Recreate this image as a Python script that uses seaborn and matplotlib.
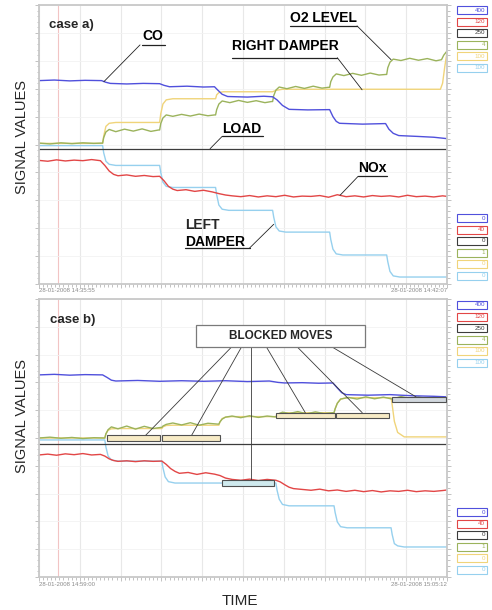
import matplotlib
matplotlib.use("Agg")
import pandas as pd
import matplotlib.pyplot as plt
import seaborn as sns
from matplotlib.patches import Rectangle
from matplotlib.ticker import MultipleLocator

# ---- data: time in s from start of record, signals in % of span ----
T_END = 372

# case a)
CO_A_T = [0, 14, 28, 42, 57, 61, 65, 80, 95, 110, 114, 119, 135, 150, 160, 163, 167, 172, 190, 205, 213, 217,
          222, 228, 245, 265, 268, 271, 274, 295, 316, 319, 323, 328, 345, 360, 372]
CO_A_V = [72.9, 73.1, 72.8, 73.0, 72.9, 72.3, 71.9, 71.7, 71.9, 71.8, 71.2, 70.7, 70.9, 70.6, 70.7, 69.5, 68.0,
          67.2, 67.0, 67.3, 67.1, 66.0, 64.0, 62.6, 62.4, 62.5, 60.0, 58.3, 57.6, 57.3, 57.5, 55.5, 54.0, 53.2,
          52.9, 52.6, 52.1]

NOX_A_T = [0, 8, 16, 24, 32, 40, 48, 56, 60, 64, 68, 72, 80, 88, 96, 104, 110, 114, 118, 122, 126, 134, 142,
           150, 158, 164, 170, 176, 184, 192, 200, 208, 216, 224, 232, 240, 248, 256, 264, 272, 280, 288, 296,
           304, 312, 320, 328, 336, 344, 352, 360, 368, 372]
NOX_A_V = [44.3, 44.0, 44.5, 44.1, 44.4, 44.2, 44.6, 44.2, 42.5, 40.5, 39.3, 38.8, 39.1, 38.6, 38.9, 38.5, 38.6,
           37.0, 35.0, 34.0, 33.5, 33.8, 33.2, 33.6, 33.0, 32.4, 31.9, 31.6, 31.3, 31.7, 31.2, 31.6, 31.3, 31.8,
           31.2, 31.5, 31.4, 31.7, 31.1, 32.0, 31.3, 31.6, 31.2, 31.7, 31.4, 31.6, 31.2, 31.8, 31.3, 31.5, 31.2,
           31.6, 31.4]

O2_A_T = [0, 10, 20, 30, 40, 50, 57, 58, 59, 61, 64, 70, 78, 86, 94, 102, 109, 110, 111, 113, 116, 122, 130,
          138, 146, 154, 160, 161, 162, 164, 167, 174, 182, 190, 198, 206, 212, 213, 214, 216, 219, 226, 234,
          242, 250, 258, 264, 265, 266, 268, 271, 278, 286, 294, 302, 310, 316, 317, 318, 320, 323, 330, 338,
          346, 354, 362, 367, 369, 372]
O2_A_V = [50.5, 50.2, 50.6, 50.3, 50.6, 50.4, 50.5, 50.5, 52.5, 54.5, 55.4, 54.6, 55.5, 54.8, 55.6, 54.7, 55.2,
          55.2, 57.5, 59.5, 60.6, 60.1, 60.8, 60.2, 60.9, 60.3, 60.6, 60.6, 62.5, 64.5, 65.6, 65.0, 65.8, 65.1,
          65.7, 65.0, 65.4, 65.4, 67.5, 69.5, 70.6, 70.0, 70.8, 70.1, 70.9, 70.2, 70.5, 70.5, 72.5, 74.2, 75.3,
          74.7, 75.5, 74.8, 75.6, 74.9, 75.1, 75.1, 77.5, 79.5, 80.6, 80.1, 80.9, 80.2, 80.8, 80.0, 80.4, 82.0,
          83.5]

RD_A_T = [0, 58, 59, 61, 64, 70, 110, 111, 113, 116, 122, 161, 162, 164, 168, 213, 216, 222, 366, 368, 370, 372]
RD_A_V = [50.4, 50.4, 53.0, 56.5, 57.6, 57.9, 57.9, 61.0, 64.5, 66.0, 66.4, 66.4, 67.8, 68.6, 68.9, 68.9, 69.4,
          69.8, 69.8, 72.0, 78.0, 83.0]

LD_A_T = [0, 58, 59, 61, 64, 70, 110, 111, 113, 116, 122, 161, 162, 164, 167, 173, 213, 214, 216, 219, 225,
          265, 266, 268, 271, 277, 317, 318, 320, 323, 329, 372]
LD_A_V = [49.6, 49.6, 47.0, 44.0, 42.9, 42.5, 42.5, 40.0, 36.5, 35.0, 34.6, 34.6, 32.0, 28.3, 26.8, 26.4, 26.4,
          24.0, 20.5, 19.0, 18.6, 18.6, 16.0, 12.5, 10.8, 10.4, 10.4, 8.0, 4.5, 2.9, 2.5, 2.5]

LOAD_A = 48.5

# case b)
CO_B_T = [0, 14, 28, 42, 58, 62, 66, 70, 90, 110, 130, 150, 170, 190, 210, 218, 224, 240, 255, 268, 272, 276,
          280, 300, 320, 340, 360, 372]
CO_B_V = [72.7, 72.9, 72.6, 72.8, 72.7, 71.8, 70.8, 70.5, 70.7, 70.4, 70.6, 70.4, 70.6, 70.3, 70.5, 70.0, 69.8,
          69.9, 69.7, 69.8, 68.0, 66.3, 65.6, 65.4, 65.6, 65.2, 65.0, 64.8]

NOX_B_T = [0, 8, 16, 24, 32, 40, 48, 56, 60, 64, 68, 72, 80, 88, 96, 104, 112, 116, 120, 124, 128, 136, 144,
           152, 160, 165, 170, 176, 184, 192, 200, 208, 216, 220, 224, 228, 232, 240, 248, 256, 264, 272, 280,
           288, 296, 304, 312, 320, 328, 336, 344, 352, 360, 368, 372]
NOX_B_V = [43.9, 44.2, 43.8, 44.3, 44.0, 44.4, 43.9, 44.1, 43.5, 42.5, 41.9, 41.6, 41.8, 41.5, 41.8, 41.6, 41.7,
           40.5, 39.0, 38.0, 37.3, 37.6, 36.9, 37.5, 37.0, 36.5, 35.6, 35.1, 34.8, 35.2, 34.7, 35.1, 34.8, 34.2,
           33.2, 32.3, 31.8, 31.5, 31.2, 31.6, 31.0, 31.3, 30.8, 31.2, 30.7, 31.1, 30.6, 31.0, 30.8, 31.2, 30.7,
           31.0, 30.8, 31.1, 31.3]

O2_B_T = [0, 10, 20, 30, 40, 50, 59, 60, 61, 63, 66, 72, 80, 88, 96, 104, 111, 112, 113, 116, 122, 130, 138,
          146, 154, 163, 164, 165, 167, 170, 176, 184, 192, 200, 208, 215, 216, 217, 219, 222, 228, 236, 244,
          252, 260, 268, 269, 270, 272, 275, 282, 290, 298, 306, 314, 322, 330, 338, 346, 354, 362, 372]
O2_B_V = [50.0, 50.3, 49.9, 50.2, 49.8, 50.1, 50.0, 50.0, 51.5, 53.0, 54.0, 53.3, 54.3, 53.2, 54.2, 53.4, 53.8,
          53.8, 54.3, 54.9, 55.4, 54.7, 55.5, 54.6, 55.3, 55.0, 55.0, 55.8, 56.8, 57.5, 57.9, 57.3, 58.0, 57.4,
          57.9, 57.6, 57.6, 58.2, 58.8, 59.3, 58.8, 59.5, 58.7, 59.4, 58.8, 59.1, 59.1, 60.5, 62.5, 64.0, 64.6,
          64.0, 64.8, 64.1, 64.7, 64.0, 64.9, 64.3, 64.8, 64.2, 64.6, 64.5]

RD_B_T = [0, 60, 61, 63, 66, 72, 112, 113, 116, 122, 164, 165, 167, 170, 176, 216, 217, 219, 224, 269, 270, 272,
          275, 281, 321, 322, 324, 327, 333, 372]
RD_B_V = [50.0, 50.0, 51.5, 52.8, 53.3, 53.4, 53.4, 54.0, 54.5, 54.6, 54.6, 55.8, 57.0, 57.5, 57.7, 57.7, 58.2,
          58.8, 59.1, 59.1, 60.5, 62.5, 64.0, 64.5, 64.5, 62.0, 56.0, 52.0, 50.4, 50.4]

LD_B_T = [0, 60, 61, 63, 66, 72, 112, 113, 115, 118, 124, 216, 217, 219, 222, 228, 269, 270, 272, 275, 281, 321,
          322, 324, 327, 333, 372]
LD_B_V = [49.3, 49.3, 46.8, 43.5, 42.1, 41.7, 41.7, 39.3, 36.0, 34.3, 33.8, 33.8, 31.3, 28.0, 26.1, 25.6, 25.6,
          23.2, 19.8, 18.1, 17.7, 17.7, 15.3, 12.0, 11.2, 10.8, 10.8]

LOAD_B = 47.8

# blocked moves in case b): start, end, level, anchor of leader
BLK_T0 = [61.8, 111.9, 216.5, 271.0, 322.0, 166.4]
BLK_T1 = [110.0, 164.6, 270.1, 319.2, 371.1, 214.6]
BLK_V = [50.0, 50.0, 58.1, 58.1, 63.8, 33.8]
BLK_FROM = [175.5, 184.6, 207.4, 235.6, 267.4, 193.7]
BLK_TO = [97.3, 139.2, 242.8, 294.7, 343.8, 193.7]

# range boxes at the right (top = max, bottom = min of each trace)
RANGE_MAX = ["400", "120", "250", "4", "100", "100"]
RANGE_MIN = ["0", "40", "0", "1", "0", "0"]

C_CO, C_NOX, C_LOAD, C_O2, C_RD, C_LD = "#5050dc", "#e24646", "#3c3c3c", "#9bb35c", "#f0d47a", "#96d0ee"
RANGE_COLORS = [C_CO, C_NOX, C_LOAD, C_O2, C_RD, C_LD]

W, H = 492, 610

sns.set_theme(style="white")
plt.rcParams['font.family'] = ['Liberation Sans', 'DejaVu Sans']

fig = plt.figure(figsize=(W / 100, H / 100), dpi=100)
ax_a = fig.add_axes([39 / W, 1 - 284 / H, 408 / W, 279 / H])
ax_b = fig.add_axes([39 / W, 1 - 577 / H, 408 / W, 278 / H])


def draw_series(ax, t, v, color, lw=1.0):
    d = pd.DataFrame({"t": t, "v": v})
    sns.lineplot(data=d, x="t", y="v", ax=ax, color=color, lw=lw, estimator=None, sort=False)


def style_axis(ax):
    ax.set_xlim(0, T_END)
    ax.set_ylim(0, 100)
    ax.set_xlabel("")
    ax.set_ylabel("")
    ax.xaxis.set_major_locator(MultipleLocator(T_END / 10))
    ax.xaxis.set_minor_locator(MultipleLocator(T_END / 100))
    ax.yaxis.set_major_locator(MultipleLocator(10))
    ax.yaxis.set_minor_locator(MultipleLocator(2))
    ax.tick_params(which="both", labelbottom=False, labelleft=False, bottom=True, left=True, right=True,
                   direction="out", color="#b8b8b8", width=0.6)
    ax.tick_params(which="major", length=3)
    ax.tick_params(which="minor", length=1.8)
    ax.grid(True, which="major", axis="x", color="#e8e8e8", lw=0.8)
    ax.grid(True, which="major", axis="y", color="#f2f2f2", lw=0.6)
    ax.axvline(17.3, color="#f2c4c4", lw=0.8, zorder=0.5)
    for s in ax.spines.values():
        s.set_color("#c8c8c8")
        s.set_linewidth(1.3)


def callout(ax, text, x0, x1, uy, base, lead_from, lead_to):
    ax.text(x0, base, text, fontsize=10, fontweight="bold", ha="left", va="baseline", color="black", zorder=6)
    ax.plot([x0, x1], [uy, uy], color="#222222", lw=0.9, zorder=6)
    ax.plot([lead_from[0], lead_to[0]], [lead_from[1], lead_to[1]], color="#222222", lw=0.6, zorder=6)


def range_boxes(labels, top_px):
    for i, (lab, col) in enumerate(zip(labels, RANGE_COLORS)):
        y = top_px + i * 11.5
        fig.add_artist(Rectangle((457 / W, 1 - (y + 8) / H), 30 / W, 8 / H, transform=fig.transFigure,
                                 facecolor="white", edgecolor=col, lw=0.8))
        fig.text(485 / W, 1 - (y + 4) / H, lab, fontsize=4.5, color=col, ha="right", va="center")


# case a)
for t, v, c in [(LD_A_T, LD_A_V, C_LD), (RD_A_T, RD_A_V, C_RD), (O2_A_T, O2_A_V, C_O2),
                (NOX_A_T, NOX_A_V, C_NOX), (CO_A_T, CO_A_V, C_CO)]:
    draw_series(ax_a, t, v, c)
ax_a.axhline(LOAD_A, color=C_LOAD, lw=0.9)
style_axis(ax_a)

ax_a.text(9.1, 91.8, "case a)", fontsize=9.5, fontweight="bold", ha="left", va="baseline")
callout(ax_a, "CO", 94.0, 114.9, 85.7, 87.6, (92.1, 85.7), (59.1, 72.5))
callout(ax_a, "RIGHT DAMPER", 176.0, 272.0, 81.1, 83.9, (272.0, 81.1), (294.6, 69.6))
callout(ax_a, "O2 LEVEL", 229.0, 290.0, 92.5, 93.9, (290.0, 92.5), (321.0, 80.4))
callout(ax_a, "LOAD", 167.0, 204.0, 52.9, 54.3, (167.0, 52.9), (156.0, 48.5))
callout(ax_a, "NOx", 291.0, 317.0, 38.6, 40.0, (291.0, 38.6), (274.5, 31.8))
ax_a.text(133.0, 19.6, "LEFT", fontsize=10, fontweight="bold", ha="left", va="baseline")
callout(ax_a, "DAMPER", 133.0, 192.0, 12.9, 13.7, (192.0, 12.9), (214.0, 21.4))

# case b)
for t, v, c in [(LD_B_T, LD_B_V, C_LD), (RD_B_T, RD_B_V, C_RD), (O2_B_T, O2_B_V, C_O2),
                (NOX_B_T, NOX_B_V, C_NOX), (CO_B_T, CO_B_V, C_CO)]:
    draw_series(ax_b, t, v, c)
ax_b.axhline(LOAD_B, color=C_LOAD, lw=0.9)
style_axis(ax_b)

ax_b.text(10.0, 91.4, "case b)", fontsize=9.5, fontweight="bold", ha="left", va="baseline")

# blocked moves: label box, leaders, then the small boxes on the traces
BOX_H = 2.0
ax_b.add_patch(Rectangle((142.8, 82.7), 154.6, 7.9, facecolor="white", edgecolor="#7a7a7a", lw=0.9, zorder=7))
ax_b.text(220.1, 86.6, "BLOCKED MOVES", fontsize=8.5, fontweight="bold", ha="center", va="center", zorder=8)
fills = ["#f7ebc6", "#f7ebc6", "#f7ebc6", "#f7ebc6", "#d2d8de", "#cfeaee"]
for t0, t1, v, xf, xt, fc in zip(BLK_T0, BLK_T1, BLK_V, BLK_FROM, BLK_TO, fills):
    ax_b.plot([xf, xt], [82.7, v + BOX_H / 2], color="#3a3a3a", lw=0.6, zorder=6)
    ax_b.add_patch(Rectangle((t0, v - BOX_H / 2), t1 - t0, BOX_H, facecolor=fc, edgecolor="#505050",
                             lw=0.8, zorder=7))

# axis labels and time stamps
fig.text(22 / W, 1 - 137 / H, "SIGNAL VALUES", rotation=90, fontsize=10.5, ha="center", va="center")
fig.text(22 / W, 1 - 416 / H, "SIGNAL VALUES", rotation=90, fontsize=10.5, ha="center", va="center")
fig.text(240 / W, 1 - 605 / H, "TIME", fontsize=11, ha="center", va="baseline")

stamp = dict(fontsize=4.3, color="#8a8a8a", va="top")
fig.text(39 / W, 1 - 288 / H, "28-01-2008 14:35:55", ha="left", **stamp)
fig.text(447 / W, 1 - 288 / H, "28-01-2008 14:42:07", ha="right", **stamp)
fig.text(39 / W, 1 - 582 / H, "28-01-2008 14:59:00", ha="left", **stamp)
fig.text(447 / W, 1 - 582 / H, "28-01-2008 15:05:12", ha="right", **stamp)

range_boxes(RANGE_MAX, 6)
range_boxes(RANGE_MIN, 214)
range_boxes(RANGE_MAX, 301)
range_boxes(RANGE_MIN, 508)

fig.savefig("out.png", dpi=100)
